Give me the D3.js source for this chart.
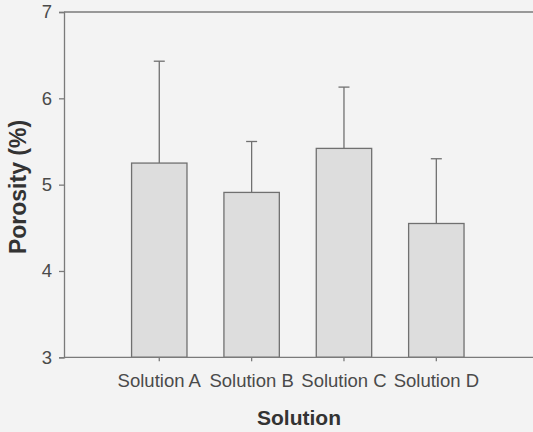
<!DOCTYPE html>
<html>
<head>
<meta charset="utf-8">
<script src="https://cdn.jsdelivr.net/npm/d3@7"></script>
<style>
  html, body { margin: 0; padding: 0; background: #f3f3f3; }
  svg { display: block; }
  text { font-family: "Liberation Sans", Arial, Helvetica, sans-serif; }
</style>
</head>
<body>
<svg id="chart" width="533" height="432"></svg>
<script>
// Mean porosity per solution with standard deviation
const categories = ["Solution A", "Solution B", "Solution C", "Solution D"];
const porosity   = [5.25, 4.91, 5.42, 4.55];
const errors     = [1.18, 0.59, 0.71, 0.75];
const yTicks     = [3, 4, 5, 6, 7];

const W = 533, H = 432;
const plot = { left: 64, right: 540, top: 12, bottom: 357.3 };

const svg = d3.select("#chart");
svg.append("rect").attr("width", W).attr("height", H).attr("fill", "#f3f3f3");

const x = d3.scaleBand()
  .domain(categories)
  .range([113.1, 482.5])
  .paddingInner(0.4)
  .paddingOuter(0.2);

const y = d3.scaleLinear().domain([3, 7]).range([plot.bottom, plot.top]);

const axisColor = "#7a7a7a";

// top frame line
svg.append("line")
  .attr("x1", plot.left).attr("x2", plot.right)
  .attr("y1", y(7)).attr("y2", y(7))
  .attr("stroke", axisColor).attr("stroke-width", 1.3);

// bars
const data = categories.map((c, i) => ({ c, v: porosity[i], e: errors[i] }));

svg.append("g").selectAll("rect").data(data).join("rect")
  .attr("x", d => x(d.c))
  .attr("y", d => y(d.v))
  .attr("width", x.bandwidth())
  .attr("height", d => y(3) - y(d.v))
  .attr("fill", "#dddddd")
  .attr("stroke", "#707070")
  .attr("stroke-width", 1.3);

// error bars (upper only)
const eb = svg.append("g").attr("stroke", "#707070").attr("stroke-width", 1.3);
eb.selectAll("line.v").data(data).join("line").attr("class", "v")
  .attr("x1", d => x(d.c) + x.bandwidth() / 2)
  .attr("x2", d => x(d.c) + x.bandwidth() / 2)
  .attr("y1", d => y(d.v))
  .attr("y2", d => y(d.v + d.e));
eb.selectAll("line.cap").data(data).join("line").attr("class", "cap")
  .attr("x1", d => x(d.c) + x.bandwidth() / 2 - 5.5)
  .attr("x2", d => x(d.c) + x.bandwidth() / 2 + 5.5)
  .attr("y1", d => y(d.v + d.e))
  .attr("y2", d => y(d.v + d.e));

// y axis
const yAxis = svg.append("g")
  .attr("transform", `translate(${plot.left},0)`)
  .call(d3.axisLeft(y).tickValues(yTicks).tickFormat(d3.format("d")).tickSize(5).tickPadding(7));
yAxis.select(".domain").attr("stroke", axisColor).attr("stroke-width", 1.3);
yAxis.selectAll(".tick line").attr("stroke", axisColor).attr("stroke-width", 1.3);
yAxis.selectAll(".tick text")
  .attr("fill", "#4a4a4a")
  .style("font-size", "18.5px");

// x axis
const xAxis = svg.append("g")
  .attr("transform", `translate(0,${plot.bottom})`)
  .call(d3.axisBottom(x).tickSize(4).tickPadding(13).tickSizeOuter(0));
xAxis.select(".domain")
  .attr("d", `M${plot.left},0H${plot.right}`)
  .attr("stroke", axisColor).attr("stroke-width", 1.3);
xAxis.selectAll(".tick line").attr("stroke", axisColor).attr("stroke-width", 1.3);
xAxis.selectAll(".tick text")
  .attr("fill", "#4a4a4a")
  .style("font-size", "18.5px");

// axis titles
svg.append("text")
  .attr("x", 299).attr("y", 425)
  .attr("text-anchor", "middle")
  .attr("fill", "#333333")
  .style("font-size", "21px").style("font-weight", "bold")
  .text("Solution");

svg.append("text")
  .attr("transform", `translate(26,187) rotate(-90)`)
  .attr("text-anchor", "middle")
  .attr("fill", "#333333")
  .style("font-size", "23px").style("font-weight", "bold")
  .text("Porosity (%)");
</script>
</body>
</html>
